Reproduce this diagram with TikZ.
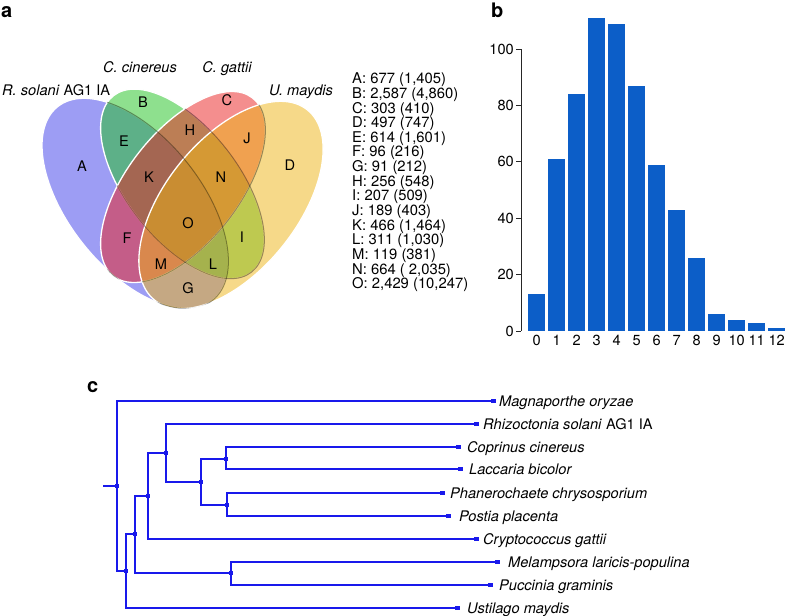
\documentclass[tikz,border=0pt]{standalone}
\usepackage{fontspec}
\setmainfont{TeX Gyre Heros}
\definecolor{vblue}{RGB}{60,60,235}
\definecolor{vgreen}{RGB}{30,195,30}
\definecolor{vred}{RGB}{235,30,30}
\definecolor{vyellow}{RGB}{238,180,20}
\definecolor{barblue}{RGB}{12,94,200}
\definecolor{treeblue}{RGB}{25,25,235}
\newcommand\EllBlue{(135.2,203.4) circle[x radius=124pt, y radius=66pt, rotate=-51.2]}
\newcommand\EllYellow{(231,205) circle[x radius=122pt, y radius=66pt, rotate=51.2]}
\newcommand\EllGreen{(182.5,183.9) circle[x radius=112pt, y radius=56pt, rotate=-52]}
\newcommand\EllRed{(183,187) circle[x radius=113pt, y radius=56pt, rotate=52]}
\begin{document}
\begin{tikzpicture}[x=1pt,y=-1pt,
  lbl/.style={font=\fontsize{14.6}{15}\selectfont, inner sep=0pt},
  itl/.style={font=\fontsize{14.6}{15}\selectfont\itshape, inner sep=0pt, anchor=base west},
  panel/.style={font=\fontsize{20}{20}\selectfont\bfseries, inner sep=0pt, anchor=base west},
  leg/.style={font=\fontsize{14.8}{15}\selectfont, inner sep=0pt, anchor=base west},
  tree/.style={draw=treeblue, line width=1.5pt},
  inode/.style={fill=treeblue, minimum size=4.5pt, inner sep=0pt},
  leafmark/.style={fill=treeblue, minimum width=5pt, minimum height=3.2pt, inner sep=0pt},
  whiteedge/.style={draw=white, line width=1.3pt},
  darkedge/.style={draw=black, draw opacity=0.38, line width=1pt},
]
\fill[white] (0,0) rectangle (788,616);
\useasboundingbox (0,0) rectangle (788,616);

% ---------------- panel a : Venn
\node[panel] (pa) at (1,17) {a};
\fill[vblue, fill opacity=0.5] \EllBlue;
\draw[whiteedge] \EllBlue;
\fill[vgreen, fill opacity=0.5] \EllGreen;
\draw[whiteedge] \EllGreen;
\fill[vred, fill opacity=0.5] \EllRed;
\draw[whiteedge] \EllRed;
\fill[vyellow, fill opacity=0.5] \EllYellow;
\draw[whiteedge] \EllYellow;
\begin{scope}
  \clip \EllGreen \EllRed \EllYellow;
  \draw[darkedge] \EllBlue;
\end{scope}
\begin{scope}
  \clip \EllRed \EllYellow;
  \draw[darkedge] \EllGreen;
\end{scope}
\begin{scope}
  \clip \EllYellow;
  \draw[darkedge] \EllRed;
\end{scope}

\node[lbl, anchor=base west] (sR) at (2,95) {\itshape R. solani\/\upshape{} AG1 IA};
\node[lbl, anchor=base, font=\fontsize{14.6}{15}\selectfont\itshape] (sC) at (140,72.7) {C. cinereus};
\node[lbl, anchor=base, font=\fontsize{14.6}{15}\selectfont\itshape] (sG) at (227,72.7) {C. gattii};
\node[lbl, anchor=base, font=\fontsize{14.6}{15}\selectfont\itshape] (sU) at (301,95) {U. maydis};

\node[lbl] (rA) at (82,166) {A};
\node[lbl] (rB) at (143,102) {B};
\node[lbl] (rC) at (227,100) {C};
\node[lbl] (rD) at (290,165) {D};
\node[lbl] (rE) at (124,141) {E};
\node[lbl] (rF) at (127,238) {F};
\node[lbl] (rG) at (188,288) {G};
\node[lbl] (rH) at (190,130) {H};
\node[lbl] (rI) at (242,237) {I};
\node[lbl] (rJ) at (247,138) {J};
\node[lbl] (rK) at (149,177) {K};
\node[lbl] (rL) at (213,264) {L};
\node[lbl] (rM) at (161,264) {M};
\node[lbl] (rN) at (221,177) {N};
\node[lbl] (rO) at (188,223) {O};

\node[leg] (l1) at (352,83.7) {A: 677 (1,405)};
\node[leg] (l2) at (352,98.3) {B: 2,587 (4,860)};
\node[leg] (l3) at (352,113.0) {C: 303 (410)};
\node[leg] (l4) at (352,127.6) {D: 497 (747)};
\node[leg] (l5) at (352,142.3) {E: 614 (1,601)};
\node[leg] (l6) at (352,156.9) {F: 96 (216)};
\node[leg] (l7) at (352,171.5) {G: 91 (212)};
\node[leg] (l8) at (352,186.2) {H: 256 (548)};
\node[leg] (l9) at (352,200.8) {I: 207 (509)};
\node[leg] (l10) at (352,215.5) {J: 189 (403)};
\node[leg] (l11) at (352,230.1) {K: 466 (1,464)};
\node[leg] (l12) at (352,244.7) {L: 311 (1,030)};
\node[leg] (l13) at (352,259.4) {M: 119 (381)};
\node[leg] (l14) at (352,274.0) {N: 664 ( 2,035)};
\node[leg] (l15) at (352,288.7) {O: 2,429 (10,247)};

% ---------------- panel b : bars
\node[panel] (pb) at (491,17) {b};
\foreach \v [count=\i from 0] in {13,61,84,111,109,87,59,43,26,6,4,3,1} {
  \fill[barblue] ({528.3+20*\i},331) rectangle ({545+20*\i},{331-2.82*\v});
  \node[lbl] (xl\i) at ({536.7+20*\i},340.5) {\i};
}
\draw[line width=1pt, black!85] (521,49) -- (521,331);
\foreach \t in {0,20,40,60,80,100} {
  \draw[line width=1pt, black!85] (516,{331-2.82*\t}) -- (521,{331-2.82*\t});
  \node[lbl, anchor=east] (yl\t) at (514,{331-2.82*\t}) {\t};
}

% ---------------- panel c : tree
\node[panel] (pc) at (87,392) {c};
\coordinate (stub) at (103,486);
\node[inode] (r) at (117,486) {};
\node[inode] (n1) at (126,571) {};
\node[inode] (n2) at (135,534) {};
\node[inode] (n3) at (148,496) {};
\node[inode] (n4) at (166,453) {};
\node[inode] (n5) at (201,482) {};
\node[inode] (n6) at (226,459) {};
\node[inode] (n7) at (227,505) {};
\node[inode] (n8) at (231,573) {};
\node[leafmark] (mag) at (493,401) {};
\node[leafmark] (rhi) at (476,424) {};
\node[leafmark] (cop) at (458,447) {};
\node[leafmark] (lac) at (460,469) {};
\node[leafmark] (pha) at (442,493) {};
\node[leafmark] (pos) at (448,516) {};
\node[leafmark] (cry) at (476,539) {};
\node[leafmark] (mel) at (497,562) {};
\node[leafmark] (puc) at (490,585) {};
\node[leafmark] (ust) at (457,608) {};

\draw[tree] (stub) -- (r.center);
\draw[tree] (r.center) |- (mag.center);
\draw[tree] (r.center) |- (n1.center);
\draw[tree] (n1.center) |- (n2.center);
\draw[tree] (n1.center) |- (ust.center);
\draw[tree] (n2.center) |- (n3.center);
\draw[tree] (n2.center) |- (n8.center);
\draw[tree] (n3.center) |- (n4.center);
\draw[tree] (n3.center) |- (cry.center);
\draw[tree] (n4.center) |- (rhi.center);
\draw[tree] (n4.center) |- (n5.center);
\draw[tree] (n5.center) |- (n6.center);
\draw[tree] (n5.center) |- (n7.center);
\draw[tree] (n6.center) |- (cop.center);
\draw[tree] (n6.center) |- (lac.center);
\draw[tree] (n7.center) |- (pha.center);
\draw[tree] (n7.center) |- (pos.center);
\draw[tree] (n8.center) |- (mel.center);
\draw[tree] (n8.center) |- (puc.center);

\node[itl] (tmag) at (499,406) {Magnaporthe oryzae};
\node[itl] (trhi) at (483,429) {Rhizoctonia solani\/\upshape{} AG1 IA};
\node[itl] (tcop) at (467,452) {Coprinus cinereus};
\node[itl] (tlac) at (469,474) {Laccaria bicolor};
\node[itl] (tpha) at (450,498) {Phanerochaete chrysosporium};
\node[itl] (tpos) at (459,521) {Postia placenta};
\node[itl] (tcry) at (483,544) {Cryptococcus gattii};
\node[itl] (tmel) at (508,567) {Melampsora laricis-populina};
\node[itl] (tpuc) at (499,590) {Puccinia graminis};
\node[itl] (tust) at (467,613) {Ustilago maydis};
\end{tikzpicture}
\end{document}
